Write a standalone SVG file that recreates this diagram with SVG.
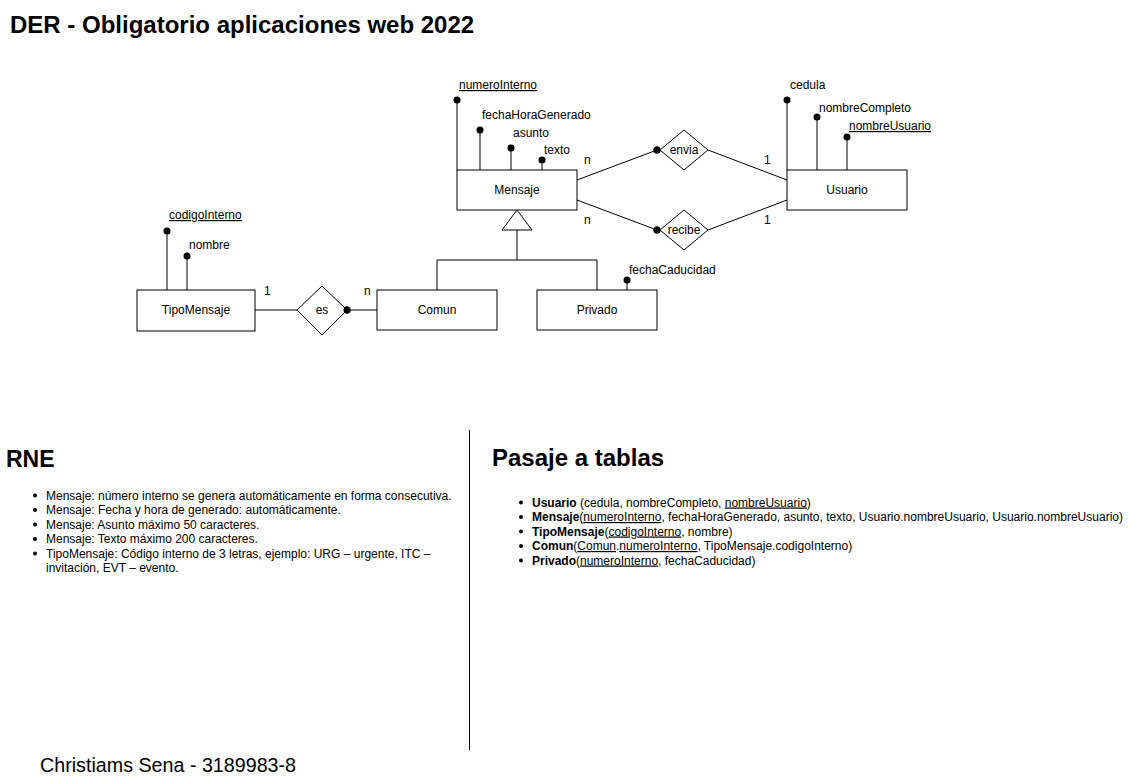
<svg xmlns="http://www.w3.org/2000/svg" width="1128" height="781" viewBox="0 0 1128 781">
<style>
text{font-family:"Liberation Sans",Arial,sans-serif;fill:#000}
.lbl{font-size:12px}
.c{text-anchor:middle}
.u{text-decoration:underline}
.b{font-weight:bold}
.box{fill:#fff;stroke:#000;stroke-width:1}
.ln{fill:none;stroke:#000;stroke-width:1}
.dot{fill:#000}
.h{font-size:24px;font-weight:bold}
</style>
<rect width="1128" height="781" fill="#fff"/>
<text x="10" y="33" class="h">DER - Obligatorio aplicaciones web 2022</text>

<g id="connectors">
  <path class="ln" d="M577,180 L657,150"/>
  <path class="ln" d="M708,150 L787,180"/>
  <path class="ln" d="M577,200 L657,230"/>
  <path class="ln" d="M708,230 L787,200"/>
  <path class="ln" d="M255,310 L297,310"/>
  <path class="ln" d="M347,310 L377,310"/>
  <path class="ln" d="M517,230 V260 M437,260 H597 M437,260 V290 M597,260 V290"/>
  <path class="box" d="M517,210 L532,230 L502,230 Z"/>
  <circle class="dot" cx="657" cy="150" r="3.5"/>
  <circle class="dot" cx="657" cy="230" r="3.5"/>
  <circle class="dot" cx="347" cy="310" r="3.5"/>
  <text class="lbl" x="584" y="164">n</text>
  <text class="lbl" x="764" y="164">1</text>
  <text class="lbl" x="584" y="224">n</text>
  <text class="lbl" x="764" y="224">1</text>
  <text class="lbl" x="264" y="295">1</text>
  <text class="lbl" x="364" y="295">n</text>
</g>

<g id="mensaje">
  <path class="ln" d="M457,100 V170 M480,130 V170 M511,148 V170 M542,160 V170"/>
  <circle class="dot" cx="457" cy="100" r="3.5"/>
  <circle class="dot" cx="480" cy="130" r="3.5"/>
  <circle class="dot" cx="511" cy="148" r="3.5"/>
  <circle class="dot" cx="542" cy="160" r="3.5"/>
  <text class="lbl u" x="459" y="89">numeroInterno</text>
  <text class="lbl" x="482" y="119">fechaHoraGenerado</text>
  <text class="lbl" x="513" y="137">asunto</text>
  <text class="lbl" x="544" y="154">texto</text>
  <rect class="box" x="457" y="170" width="120" height="40"/>
  <text class="lbl c" x="517" y="194">Mensaje</text>
</g>

<g id="usuario">
  <path class="ln" d="M787,100 V170 M817,117 V170 M847,137 V170"/>
  <circle class="dot" cx="787" cy="100" r="3.5"/>
  <circle class="dot" cx="817" cy="117" r="3.5"/>
  <circle class="dot" cx="847" cy="137" r="3.5"/>
  <text class="lbl" x="790" y="89">cedula</text>
  <text class="lbl" x="819" y="112">nombreCompleto</text>
  <text class="lbl u" x="849" y="130">nombreUsuario</text>
  <rect class="box" x="787" y="170" width="120" height="40"/>
  <text class="lbl c" x="847" y="194">Usuario</text>
</g>

<g id="envia">
  <path class="box" d="M660,150 L684,130 L708,150 L684,170 Z"/>
  <circle class="dot" cx="657" cy="150" r="3.5"/>
  <text class="lbl c" x="684" y="154">envia</text>
</g>

<g id="recibe">
  <path class="box" d="M660,230 L684,210 L708,230 L684,250 Z"/>
  <circle class="dot" cx="657" cy="230" r="3.5"/>
  <text class="lbl c" x="684" y="234">recibe</text>
</g>

<g id="tipomensaje">
  <path class="ln" d="M167,231 V290 M187,256 V290"/>
  <circle class="dot" cx="167" cy="231" r="3.5"/>
  <circle class="dot" cx="187" cy="256" r="3.5"/>
  <text class="lbl u" x="169" y="219">codigoInterno</text>
  <text class="lbl" x="189" y="249">nombre</text>
  <rect class="box" x="137" y="290" width="118" height="41"/>
  <text class="lbl c" x="196" y="314">TipoMensaje</text>
</g>

<g id="es">
  <path class="box" d="M297,310 L322,286 L347,310 L322,335 Z"/>
  <circle class="dot" cx="347" cy="310" r="3.5"/>
  <text class="lbl c" x="322" y="314">es</text>
</g>

<g id="comun">
  <rect class="box" x="377" y="290" width="120" height="40"/>
  <text class="lbl c" x="437" y="314">Comun</text>
</g>

<g id="privado">
  <path class="ln" d="M627,280 V290"/>
  <circle class="dot" cx="627" cy="280" r="3.5"/>
  <text class="lbl" x="629" y="274">fechaCaducidad</text>
  <rect class="box" x="537" y="290" width="120" height="40"/>
  <text class="lbl c" x="597" y="314">Privado</text>
</g>

<line class="ln" x1="469.5" y1="430" x2="469.5" y2="750"/>

<g id="rne">
  <text x="6" y="467" style="font-size:23px;font-weight:bold">RNE</text>
  <circle class="dot" cx="35" cy="495.5" r="2"/>
  <circle class="dot" cx="35" cy="510" r="2"/>
  <circle class="dot" cx="35" cy="524.5" r="2"/>
  <circle class="dot" cx="35" cy="539" r="2"/>
  <circle class="dot" cx="35" cy="553.5" r="2"/>
  <text class="lbl" x="46" y="499.5">Mensaje: número interno se genera automáticamente en forma consecutiva.</text>
  <text class="lbl" x="46" y="514">Mensaje: Fecha y hora de generado: automáticamente.</text>
  <text class="lbl" x="46" y="528.5">Mensaje: Asunto máximo 50 caracteres.</text>
  <text class="lbl" x="46" y="543">Mensaje: Texto máximo 200 caracteres.</text>
  <text class="lbl" x="46" y="557.5">TipoMensaje: Código interno de 3 letras, ejemplo: URG – urgente, ITC –</text>
  <text class="lbl" x="46" y="572">invitación, EVT – evento.</text>
</g>

<g id="pasaje">
  <text x="492" y="466" class="h">Pasaje a tablas</text>
  <circle class="dot" cx="521" cy="502.5" r="2"/>
  <circle class="dot" cx="521" cy="517" r="2"/>
  <circle class="dot" cx="521" cy="531.5" r="2"/>
  <circle class="dot" cx="521" cy="546" r="2"/>
  <circle class="dot" cx="521" cy="560.5" r="2"/>
  <text class="lbl" x="532" y="506.5"><tspan class="b">Usuario</tspan> (cedula, nombreCompleto, <tspan class="u">nombreUsuario</tspan>)</text>
  <text class="lbl" x="532" y="521"><tspan class="b">Mensaje</tspan>(<tspan class="u">numeroInterno</tspan>, fechaHoraGenerado, asunto, texto, Usuario.nombreUsuario, Usuario.nombreUsuario)</text>
  <text class="lbl" x="532" y="535.5"><tspan class="b">TipoMensaje</tspan>(<tspan class="u">codigoInterno</tspan>, nombre)</text>
  <text class="lbl" x="532" y="550"><tspan class="b">Comun</tspan>(<tspan class="u">Comun</tspan>.<tspan class="u">numeroInterno</tspan>, TipoMensaje.codigoInterno)</text>
  <text class="lbl" x="532" y="564.5"><tspan class="b">Privado</tspan>(<tspan class="u">numeroInterno</tspan>, fechaCaducidad)</text>
</g>

<text x="40" y="772" style="font-size:19.7px">Christiams Sena - 3189983-8</text>
</svg>
